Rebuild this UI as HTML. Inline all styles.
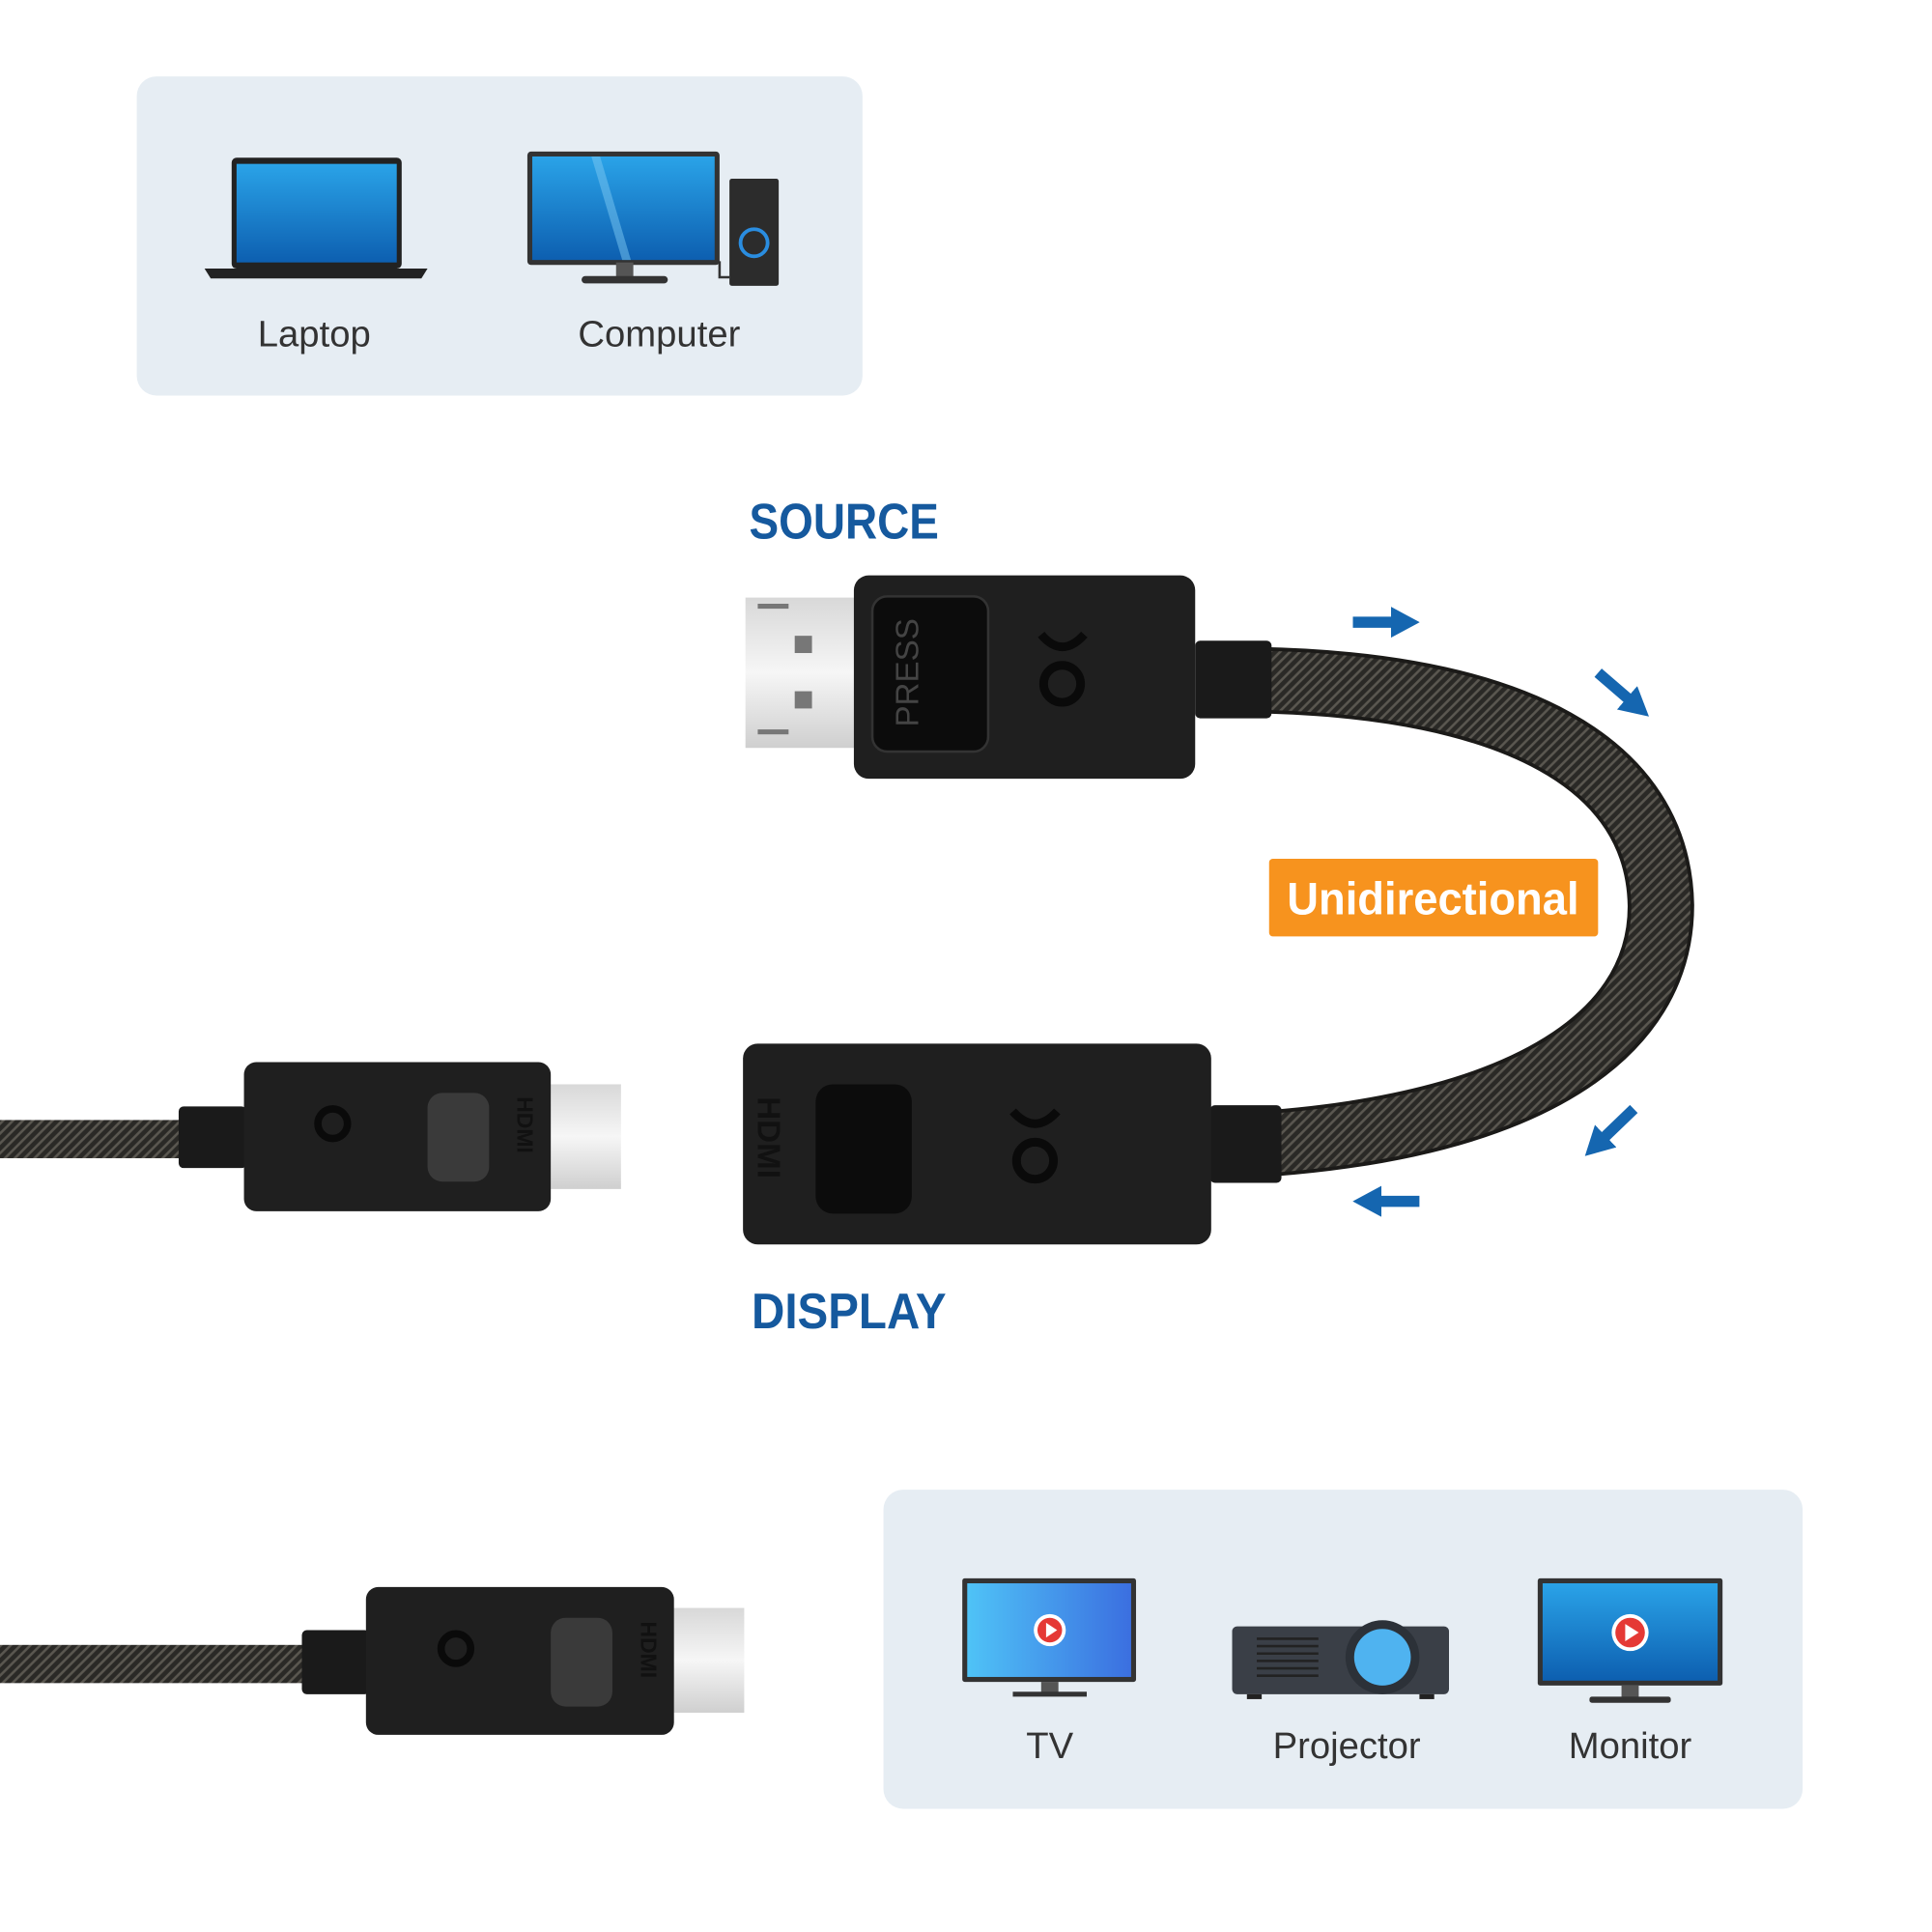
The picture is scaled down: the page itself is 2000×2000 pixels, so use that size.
<!DOCTYPE html>
<html><head><meta charset="utf-8"><style>
html,body{margin:0;padding:0;background:#fff;}
svg{display:block;}
text{font-family:"Liberation Sans",sans-serif;}
</style></head><body>
<svg width="2000" height="2000" viewBox="0 0 1568 1568" xmlns="http://www.w3.org/2000/svg">
<defs>
<linearGradient id="scr" x1="0" y1="0" x2="0" y2="1"><stop offset="0" stop-color="#2aa3e8"/><stop offset="1" stop-color="#0d5fb0"/></linearGradient>
<linearGradient id="tvs" x1="0" y1="0" x2="1" y2="0"><stop offset="0" stop-color="#4fc3f7"/><stop offset="1" stop-color="#3b6fe0"/></linearGradient>
<linearGradient id="metal" x1="0" y1="0" x2="0" y2="1"><stop offset="0" stop-color="#d8d8d8"/><stop offset="0.5" stop-color="#f6f6f6"/><stop offset="1" stop-color="#cfcfcf"/></linearGradient>
<pattern id="braid" width="8" height="8" patternUnits="userSpaceOnUse"><rect width="8" height="8" fill="#2a2926"/><path d="M0 8 L8 0 M-2 2 L2 -2 M6 10 L10 6" stroke="#5a5750" stroke-width="2"/></pattern>
<marker id="ah" markerWidth="2.6" markerHeight="2.8" refX="0.8" refY="1.4" orient="auto"><path d="M0 0 L2.6 1.4 L0 2.8 Z" fill="#1566b0"/></marker>
</defs>
<rect width="1568" height="1568" fill="#fff"/>
<!-- top panel -->
<rect x="111" y="62" width="589" height="259" rx="16" fill="#e6edf3"/>
<rect x="188" y="128" width="138" height="90" rx="4" fill="#222"/>
<rect x="192" y="133" width="130" height="80" fill="url(#scr)"/>
<path d="M166 218 H347 L342 226 H171 Z" fill="#222"/>
<text x="255" y="281" font-size="30" fill="#333" text-anchor="middle">Laptop</text>
<rect x="428" y="123" width="156" height="92" rx="3" fill="#333"/>
<rect x="432" y="127" width="148" height="84" fill="url(#scr)"/>
<path d="M480 127 L505 211 H512 L487 127Z" fill="#7cc8f2" opacity="0.5"/>
<rect x="500" y="213" width="14" height="12" fill="#555"/>
<rect x="472" y="224" width="70" height="6" rx="3" fill="#333"/>
<rect x="592" y="145" width="40" height="87" rx="2" fill="#2c2c2c"/>
<circle cx="612" cy="197" r="11" fill="none" stroke="#2a8de0" stroke-width="3"/>
<path d="M584 212 V225 H592" stroke="#333" stroke-width="2" fill="none"/>
<text x="535" y="281" font-size="30" fill="#333" text-anchor="middle">Computer</text>
<!-- labels -->
<text x="608" y="437" font-size="41" font-weight="bold" fill="#15599e" textLength="154" lengthAdjust="spacingAndGlyphs">SOURCE</text>
<text x="610" y="1078" font-size="41" font-weight="bold" fill="#15599e" textLength="158" lengthAdjust="spacingAndGlyphs">DISPLAY</text>
<!-- cable -->
<path d="M1020 552 C1230 556 1346 620 1348 735 C1348 840 1240 912 1030 928" stroke="#1b1a18" stroke-width="54" fill="none"/>
<path d="M1020 552 C1230 556 1346 620 1348 735 C1348 840 1240 912 1030 928" stroke="url(#braid)" stroke-width="48" fill="none"/>
<!-- DP connector -->
<rect x="605" y="485" width="92" height="122" fill="url(#metal)"/>
<rect x="645" y="516" width="14" height="14" fill="#777"/><rect x="645" y="561" width="14" height="14" fill="#777"/>
<rect x="615" y="490" width="25" height="4" fill="#777"/><rect x="615" y="592" width="25" height="4" fill="#777"/>
<rect x="970" y="520" width="62" height="63" rx="4" fill="#1a1a1a"/>
<rect x="693" y="467" width="277" height="165" rx="12" fill="#1f1f1f"/>
<rect x="708" y="484" width="94" height="126" rx="12" fill="#0c0c0c" stroke="#333" stroke-width="2"/>
<text x="745" y="590" font-size="26" fill="#444" transform="rotate(-90 745 590)">PRESS</text>
<circle cx="862" cy="555" r="15" fill="none" stroke="#0a0a0a" stroke-width="7"/>
<path d="M845 515 Q862 535 880 515" stroke="#0a0a0a" stroke-width="7" fill="none"/>
<!-- HDMI display connector -->
<rect x="982" y="897" width="58" height="63" rx="4" fill="#1a1a1a"/>
<rect x="603" y="847" width="380" height="163" rx="12" fill="#1f1f1f"/>
<rect x="662" y="880" width="78" height="105" rx="14" fill="#0c0c0c"/>
<text x="615" y="890" font-size="26" font-weight="bold" fill="#111" transform="rotate(90 615 890)">HDMI</text>
<circle cx="840" cy="942" r="15" fill="none" stroke="#0a0a0a" stroke-width="7"/>
<path d="M822 902 Q840 922 858 902" stroke="#0a0a0a" stroke-width="7" fill="none"/>
<!-- unidirectional -->
<rect x="1030" y="697" width="267" height="63" rx="3" fill="#f7931e"/>
<text x="1163" y="742" font-size="37" font-weight="bold" fill="#fff" text-anchor="middle" textLength="237" lengthAdjust="spacingAndGlyphs">Unidirectional</text>
<!-- arrows -->
<g stroke="#1566b0" stroke-width="9" fill="none" marker-end="url(#ah)">
<path d="M1098 505 H1136"/><path d="M1297 546 L1326 571"/>
<path d="M1326 900 L1298 927"/><path d="M1152 975 H1114"/>
</g>
<!-- left HDMI plug 1 -->
<rect x="0" y="909" width="150" height="31" fill="url(#braid)"/>
<rect x="145" y="898" width="55" height="50" rx="4" fill="#1a1a1a"/>
<rect x="447" y="880" width="57" height="85" fill="url(#metal)"/>
<rect x="198" y="862" width="249" height="121" rx="10" fill="#1f1f1f"/>
<rect x="347" y="887" width="50" height="72" rx="12" fill="#3a3a3a"/>
<circle cx="270" cy="912" r="12" fill="none" stroke="#0a0a0a" stroke-width="6"/>
<text x="420" y="890" font-size="18" font-weight="bold" fill="#111" transform="rotate(90 420 890)">HDMI</text>
<!-- left HDMI plug 2 -->
<rect x="0" y="1335" width="250" height="31" fill="url(#braid)"/>
<rect x="245" y="1323" width="55" height="52" rx="4" fill="#1a1a1a"/>
<rect x="547" y="1305" width="57" height="85" fill="url(#metal)"/>
<rect x="297" y="1288" width="250" height="120" rx="10" fill="#1f1f1f"/>
<rect x="447" y="1313" width="50" height="72" rx="12" fill="#3a3a3a"/>
<circle cx="370" cy="1338" r="12" fill="none" stroke="#0a0a0a" stroke-width="6"/>
<text x="520" y="1316" font-size="18" font-weight="bold" fill="#111" transform="rotate(90 520 1316)">HDMI</text>
<!-- bottom panel -->
<rect x="717" y="1209" width="746" height="259" rx="16" fill="#e6edf3"/>
<rect x="781" y="1281" width="141" height="84" rx="2" fill="#333"/>
<rect x="785" y="1285" width="133" height="76" fill="url(#tvs)"/>
<circle cx="852" cy="1323" r="13" fill="#fff"/><circle cx="852" cy="1323" r="10" fill="#e53935"/><path d="M849 1317 L858 1323 L849 1329Z" fill="#fff"/>
<rect x="845" y="1365" width="14" height="9" fill="#555"/><rect x="822" y="1373" width="60" height="4" fill="#333"/>
<text x="852" y="1427" font-size="30" fill="#333" text-anchor="middle">TV</text>
<rect x="1000" y="1320" width="176" height="55" rx="4" fill="#3a3f47"/>
<g stroke="#222" stroke-width="2"><path d="M1020 1330H1070M1020 1336H1070M1020 1342H1070M1020 1348H1070M1020 1354H1070M1020 1360H1070"/></g>
<circle cx="1122" cy="1345" r="30" fill="#2c3138"/><circle cx="1122" cy="1345" r="23" fill="#4fb3f0"/>
<rect x="1012" y="1375" width="12" height="4" fill="#222"/><rect x="1152" y="1375" width="12" height="4" fill="#222"/>
<text x="1093" y="1427" font-size="30" fill="#333" text-anchor="middle">Projector</text>
<rect x="1248" y="1281" width="150" height="87" rx="2" fill="#333"/>
<rect x="1252" y="1285" width="142" height="79" fill="url(#scr)"/>
<circle cx="1323" cy="1325" r="15" fill="#fff"/><circle cx="1323" cy="1325" r="12" fill="#e53935"/><path d="M1319 1318 L1330 1325 L1319 1332Z" fill="#fff"/>
<rect x="1316" y="1368" width="14" height="10" fill="#555"/><rect x="1290" y="1377" width="66" height="5" rx="2" fill="#333"/>
<text x="1323" y="1427" font-size="30" fill="#333" text-anchor="middle">Monitor</text>
</svg>
</body></html>
